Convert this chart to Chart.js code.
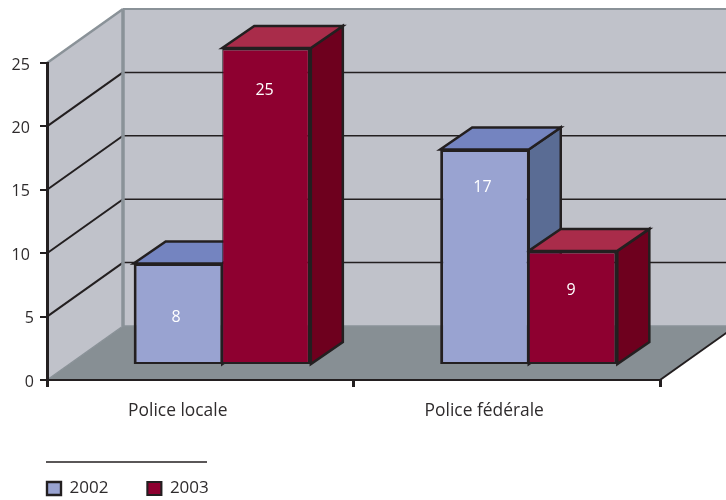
<!DOCTYPE html>
<html>
<head>
<meta charset="utf-8">
<style>
  html, body { margin: 0; padding: 0; background: #fff; }
  canvas { display: block; }
</style>
<script src="https://cdn.jsdelivr.net/npm/chart.js@4"></script>
</head>
<body>
<canvas id="chart" width="726" height="500"></canvas>
<script>
// Data
const categories = ['Police locale', 'Police fédérale'];
const seriesNames = ['2002', '2003'];
const values2002 = [8, 17];
const values2003 = [25, 9];

const INK = '#231f20';
const TEXT = '#2e2b2c';
const FONT = '"Open Sans", sans-serif';

// Projection of the box
const WALL = { dx: 76, dy: -54 };
const BAR_SHIFT = { dx: 22, dy: -15 };
const BAR_DEPTH = { dx: 32, dy: -22 };

const faceColors = [
  { face: '#99a3d1', top: '#7484c0', side: '#5a6c94' },
  { face: '#8e0030', top: '#a92c4a', side: '#6e001e' }
];

// the two bars touch, so their shared edge is split between them
const barBorders = [
  { top: 2.5, bottom: 2, left: 3, right: 2 },
  { top: 2.5, bottom: 2, left: 1, right: 3 }
];

// distance from bar top to its value label, per series and category
const labelDrop = [[54, 38], [42, 40]];

function poly(ctx, pts, fill, stroke, width) {
  ctx.beginPath();
  pts.forEach((p, i) => (i ? ctx.lineTo(p[0], p[1]) : ctx.moveTo(p[0], p[1])));
  ctx.closePath();
  if (fill) {
    ctx.fillStyle = fill;
    ctx.fill();
  }
  if (stroke) {
    ctx.strokeStyle = stroke;
    ctx.lineWidth = width;
    ctx.lineJoin = 'miter';
    ctx.stroke();
  }
}

function line(ctx, x1, y1, x2, y2, color, width) {
  ctx.beginPath();
  ctx.moveTo(x1, y1);
  ctx.lineTo(x2, y2);
  ctx.strokeStyle = color;
  ctx.lineWidth = width;
  ctx.stroke();
}

const box3d = {
  id: 'box3d',
  afterLayout(chart) {
    chart.legend.top = 441;
  },
  beforeDraw(chart) {
    const ctx = chart.ctx;
    const { left, right, top, bottom } = chart.chartArea;
    const yScale = chart.scales.y;
    const dx = WALL.dx, dy = WALL.dy;
    const backLeft = left + dx;
    const backRight = right + dx;

    ctx.save();
    // back wall and left wall
    poly(ctx, [[backLeft, top + dy], [backRight, top + dy], [backRight, bottom + dy], [backLeft, bottom + dy]], '#c0c2ca');
    poly(ctx, [[left, bottom], [backLeft, bottom + dy], [backLeft, top + dy], [left, top]], '#c0c2ca');
    // floor
    poly(ctx, [[left, bottom], [right, bottom], [backRight, bottom + dy], [backLeft, bottom + dy]], '#878f94');

    // grid lines on both walls
    yScale.ticks.forEach(t => {
      if (t.value === 0 || t.value === yScale.max) return;
      const y = yScale.getPixelForValue(t.value);
      line(ctx, left, y, backLeft, y + dy, INK, 2);
      line(ctx, backLeft, y + dy, backRight, y + dy, INK, 1.5);
    });

    // wall edges
    const edge = '#8a9298';
    line(ctx, left, top, backLeft, top + dy, edge, 2.5);
    line(ctx, backLeft, top + dy, backRight, top + dy, edge, 2);
    line(ctx, backLeft, top + dy, backLeft, bottom + dy, edge, 3.5);
    line(ctx, backLeft, bottom + dy, backRight, bottom + dy, edge, 1.5);
    line(ctx, left, bottom, backLeft, bottom + dy, edge, 1.5);

    // right edge of the floor
    line(ctx, right, bottom, backRight, bottom + dy, INK, 2);
    ctx.restore();
  },
  beforeDatasetsDraw(chart) {
    const ctx = chart.ctx;
    ctx.save();
    ctx.translate(BAR_SHIFT.dx, BAR_SHIFT.dy);
    const d = BAR_DEPTH;
    seriesNames.forEach((name, ds) => {
      chart.getDatasetMeta(ds).data.forEach(bar => {
        const l = bar.x - bar.width / 2;
        const r = bar.x + bar.width / 2;
        const colors = faceColors[ds];
        poly(ctx, [[r, bar.y], [r + d.dx, bar.y + d.dy], [r + d.dx, bar.base + d.dy], [r, bar.base]], colors.side, INK, 2.5);
        poly(ctx, [[l, bar.y], [l + d.dx, bar.y + d.dy], [r + d.dx, bar.y + d.dy], [r, bar.y]], colors.top, INK, 2.5);
      });
    });
  },
  afterDatasetsDraw(chart) {
    const ctx = chart.ctx;
    ctx.textAlign = 'center';
    ctx.textBaseline = 'middle';
    ctx.font = '16px ' + FONT;
    ctx.fillStyle = '#ffffff';
    seriesNames.forEach((name, ds) => {
      const meta = chart.getDatasetMeta(ds);
      meta.data.forEach((bar, i) => {
        ctx.fillText(chart.data.datasets[ds].data[i], bar.x - 2, bar.y + labelDrop[ds][i]);
      });
    });
    ctx.restore();
  },
  afterDraw(chart) {
    // rule above the legend
    line(chart.ctx, 46, 462, 207, 462, INK, 1.5);
  }
};

new Chart(document.getElementById('chart'), {
  type: 'bar',
  data: {
    labels: categories,
    datasets: [values2002, values2003].map((values, i) => ({
      label: seriesNames[i],
      data: values,
      backgroundColor: faceColors[i].face,
      borderColor: INK,
      borderWidth: barBorders[i],
      borderSkipped: false,
      clip: false
    }))
  },
  options: {
    responsive: false,
    animation: false,
    layout: { padding: { left: 8, right: 66, top: 63, bottom: 0 } },
    datasets: { bar: { categoryPercentage: 0.578, barPercentage: 1 } },
    scales: {
      x: {
        offset: true,
        afterFit(scale) { scale.height = 54; },
        border: { color: INK, width: 2 },
        grid: { offset: true, drawOnChartArea: false, color: INK, lineWidth: 3, tickLength: 7 },
        ticks: {
          color: TEXT,
          font: { family: FONT, size: 17.4 },
          labelOffset: -22.5,
          padding: 14,
          maxRotation: 0
        }
      },
      y: {
        min: 0,
        max: 25,
        afterFit(scale) { scale.width = 39; },
        border: { color: INK, width: 3 },
        grid: { drawOnChartArea: false, color: INK, lineWidth: 2, tickLength: 7 },
        ticks: {
          stepSize: 5,
          color: TEXT,
          font: { family: FONT, size: 16 },
          padding: 6,
          labelOffset: 2,
          // one digit labels sit a little further right
          callback: v => (v < 10 ? String(v) : v + '\u00a0')
        }
      }
    },
    plugins: {
      title: { display: false },
      tooltip: { enabled: false },
      legend: {
        position: 'bottom',
        align: 'start',
        labels: {
          color: TEXT,
          font: { family: FONT, size: 17 },
          boxWidth: 14,
          boxHeight: 13,
          padding: 39
        }
      }
    }
  },
  plugins: [box3d]
});
</script>
</body>
</html>
